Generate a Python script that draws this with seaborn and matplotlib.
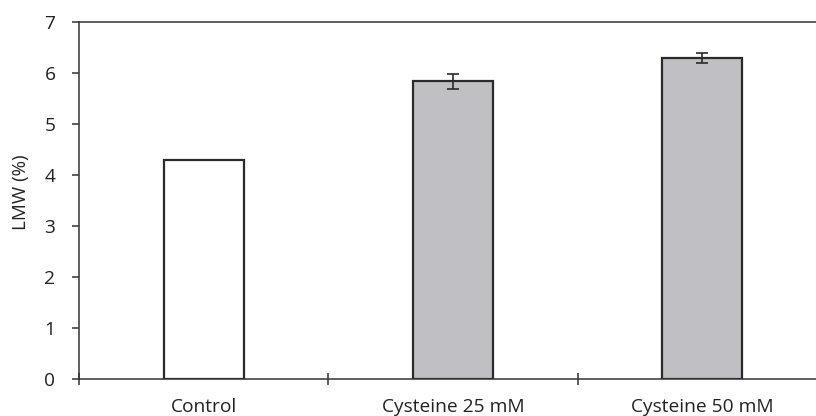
import matplotlib
matplotlib.use("Agg")
import matplotlib.pyplot as plt
from matplotlib.ticker import FixedLocator
import seaborn as sns
import pandas as pd

categories = ["Control", "Cysteine 25 mM", "Cysteine 50 mM"]
lmw_values = [4.30, 5.84, 6.29]
lmw_errors = [0.0, 0.15, 0.10]
y_ticks = [0, 1, 2, 3, 4, 5, 6, 7]

sns.set_theme(style="white")
plt.rcParams["font.family"] = ["Open Sans", "DejaVu Sans"]

df = pd.DataFrame({"group": categories, "lmw": lmw_values})

W, H = 816, 416
fig = plt.figure(figsize=(W / 100, H / 100), dpi=100)
# Category spacing extends the axis slightly past the right edge of the figure
x0, x1 = 79, 827
y0, y1 = 379, 22
ax = fig.add_axes([x0 / W, (H - y0) / H, (x1 - x0) / W, (y0 - y1) / H])

edge = "#2a2a2a"
sns.barplot(data=df, x="group", y="lmw", hue="group",
            palette=["white", "#c0c0c4", "#c0c0c4"], legend=False,
            width=0.32, edgecolor=edge, linewidth=1.6, ax=ax, errorbar=None)

for i, (v, e) in enumerate(zip(lmw_values, lmw_errors)):
    if e > 0:
        ax.errorbar(i, v, yerr=e, fmt="none", ecolor=edge, elinewidth=1.2,
                    capsize=4, capthick=1.2, zorder=5)

ax.set_xlim(-0.5, 2.5)
ax.set_ylim(0, 7)
ax.set_yticks(y_ticks)
ax.set_xlabel("")
ax.set_ylabel("LMW (%)", fontsize=13.5, color="#222222")
ax.yaxis.set_label_coords(-0.066, 0.524)

for side in ["left", "bottom", "top"]:
    ax.spines[side].set_visible(True)
    ax.spines[side].set_color("#333333")
    ax.spines[side].set_linewidth(1.1)
ax.spines["right"].set_visible(False)

ax.tick_params(axis="y", which="major", left=True, direction="out", length=5,
               width=1.1, color="#333333", labelsize=13.8, labelcolor="#222222", pad=12)
ax.tick_params(axis="x", which="major", bottom=True, length=0, labelsize=13.8,
               labelcolor="#222222", pad=14)
ax.xaxis.set_minor_locator(FixedLocator([-0.5, 0.5, 1.5]))
ax.tick_params(axis="x", which="minor", bottom=True, direction="inout", length=9,
               width=1.1, color="#333333")

fig.savefig("out.png", dpi=100)
